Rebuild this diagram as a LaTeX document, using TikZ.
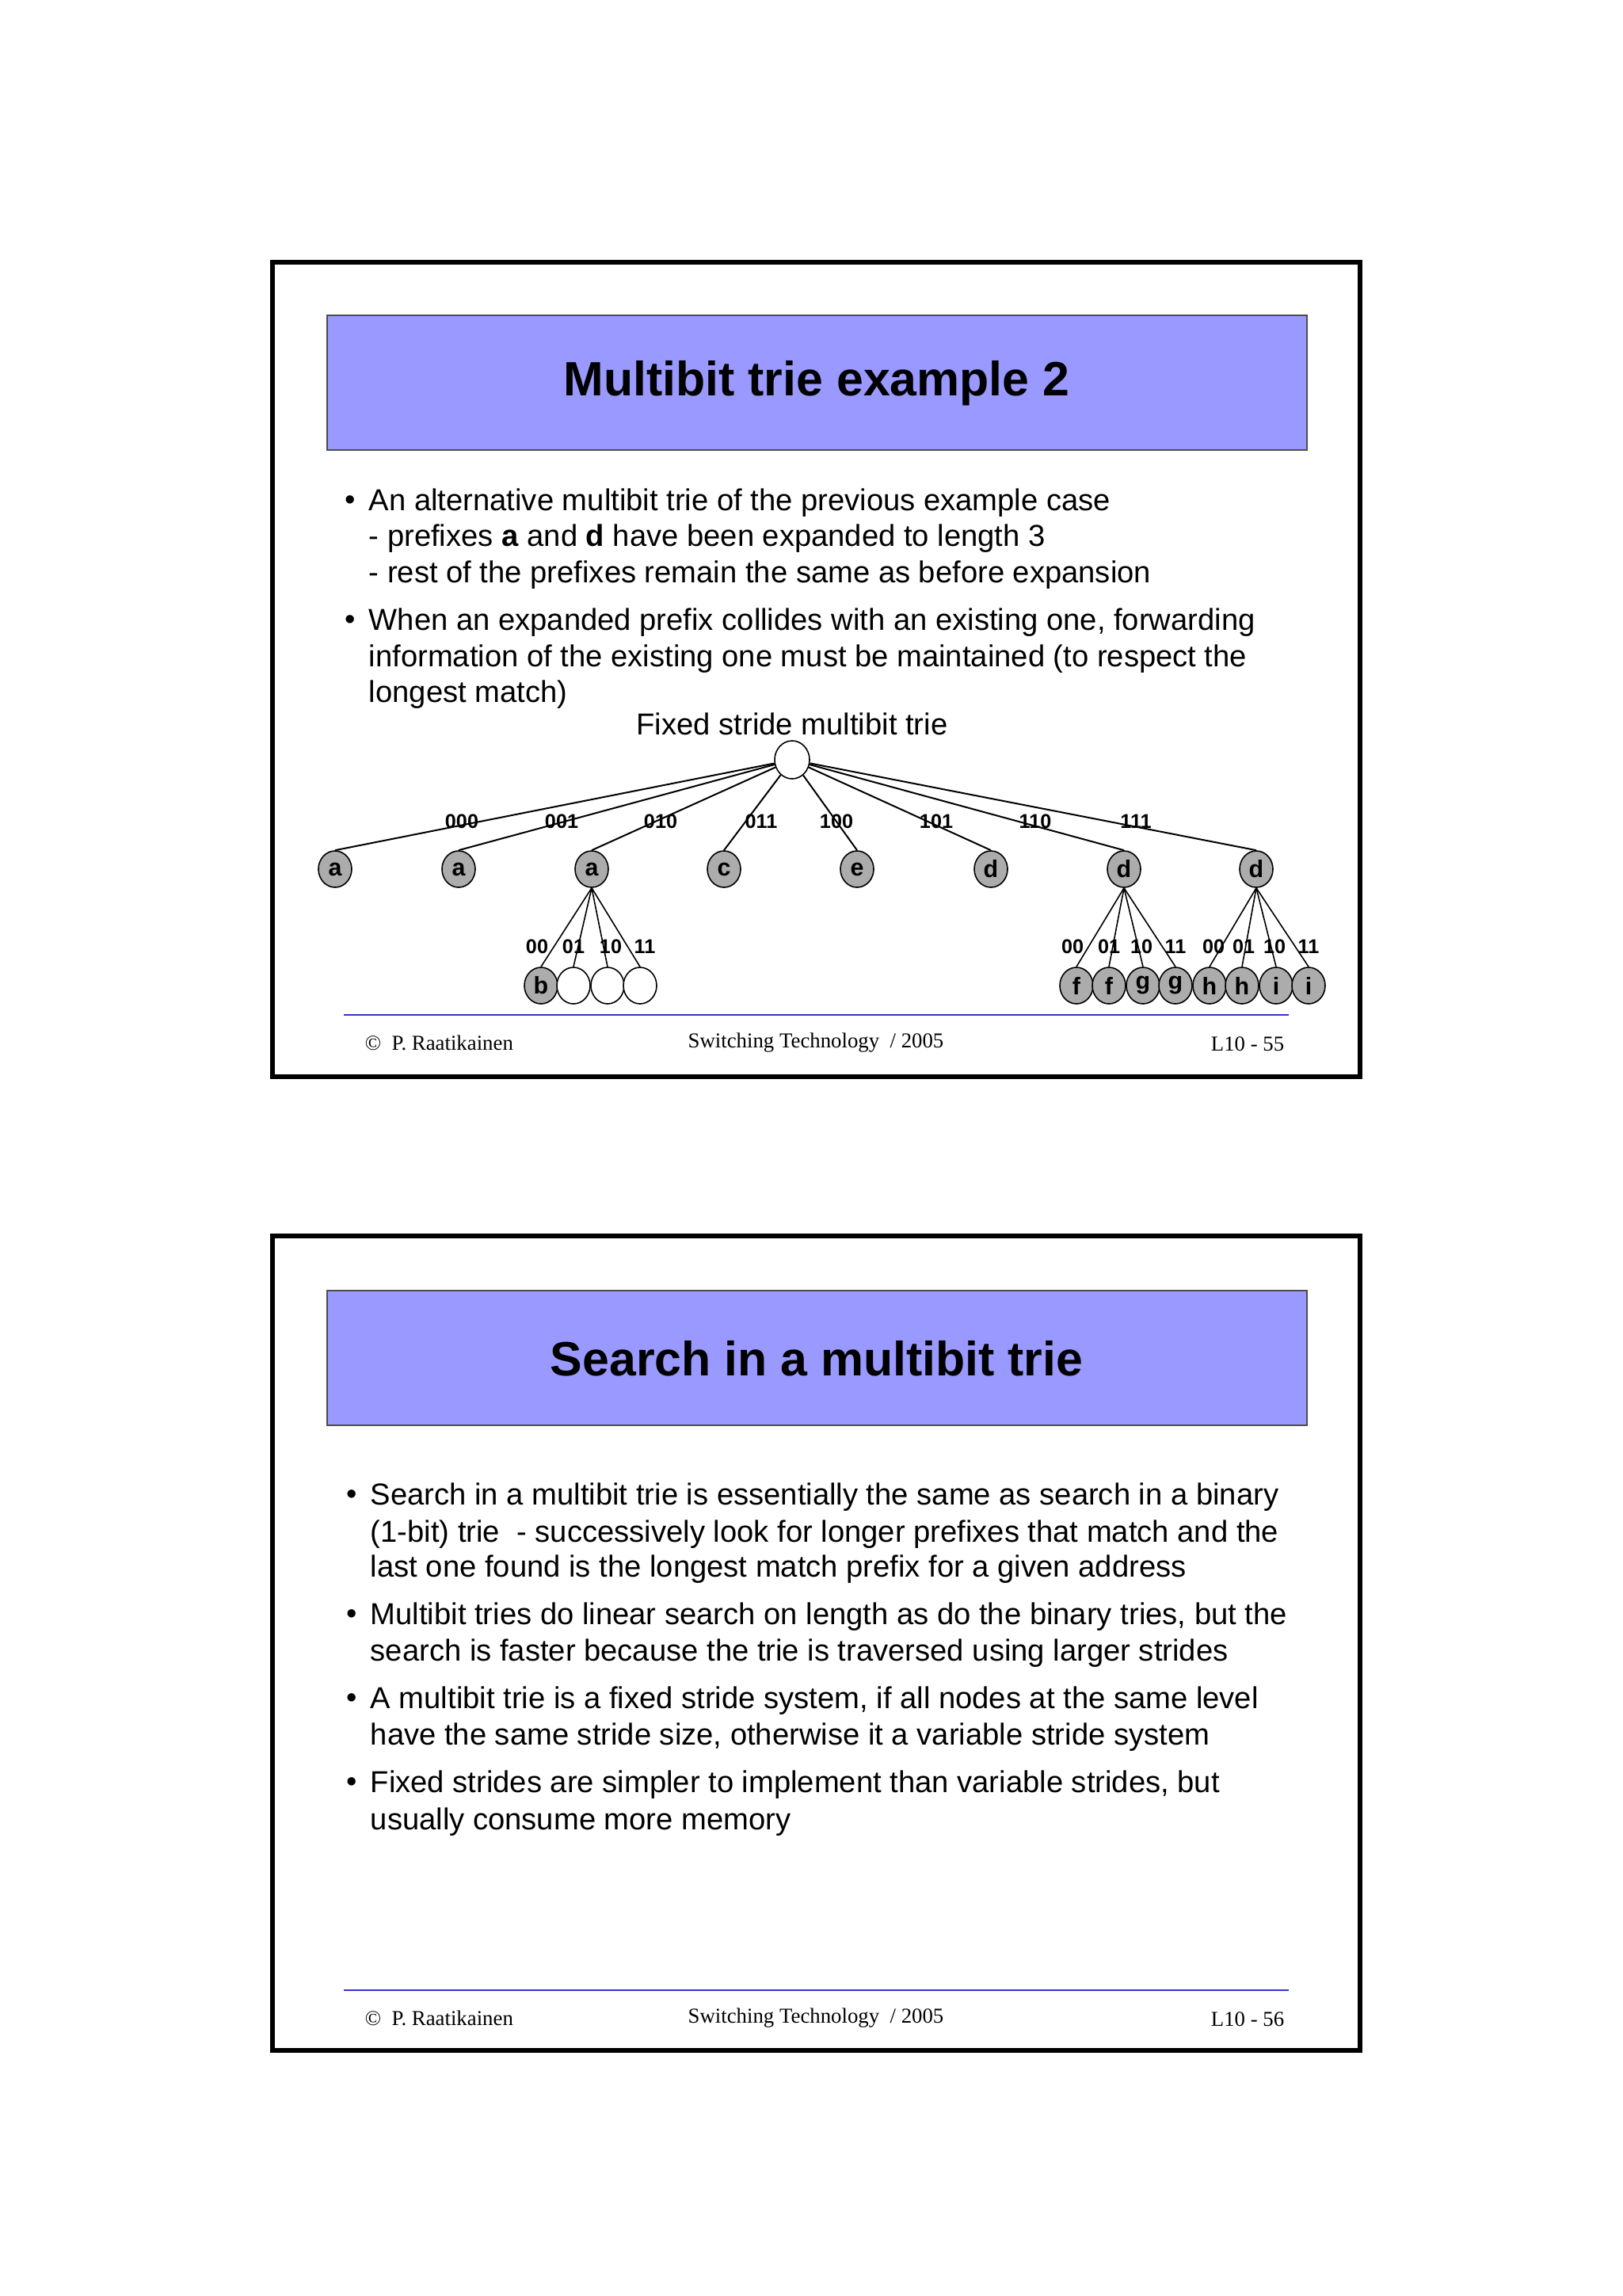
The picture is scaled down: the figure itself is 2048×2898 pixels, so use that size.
\documentclass[tikz,border=0pt]{standalone}
\usepackage{fontspec}
\setmainfont{Liberation Sans}
\newfontfamily\footfont{Liberation Serif}
\usetikzlibrary{shapes.geometric}
\definecolor{titlefill}{HTML}{9999FF}
\definecolor{rule}{HTML}{3333CC}
\tikzset{
  frame/.style={draw=black,line width=1.3pt},
  titlebox/.style={draw=black!70,fill=titlefill,line width=0.4pt},
  titletext/.style={font=\fontsize{15.2}{18}\selectfont\bfseries},
  bodyline/.style={anchor=west,inner sep=0,font=\fontsize{9.55}{11}\selectfont},
  foot/.style={inner sep=0,font=\footfont\fontsize{6.7}{8}\selectfont},
  tn/.style={ellipse,draw=black,line width=0.4pt,fill=gray!65,minimum width=10.5pt,minimum height=11.5pt,inner sep=0,font=\fontsize{7.6}{8}\selectfont\bfseries},
  en/.style={tn,fill=white},
  el/.style={inner sep=0,font=\fontsize{6.3}{7}\selectfont\bfseries},
  ed/.style={line width=0.5pt},
}
\begin{document}
\begin{tikzpicture}[x=0.25pt,y=-0.25pt]
\useasboundingbox (0,0) rectangle (2048,2898);
% ---------- slide 1
\draw[frame] (344,331) rectangle (1717,1359);
\draw[titlebox] (413,398) rectangle (1650,568);
\node[titletext] (t1) at (1031,484) {Multibit trie example 2};
\node[bodyline] (b1) at (435,635) {•};
\node[bodyline] (l1) at (465,635) {An alternative multibit trie of the previous example case};
\node[bodyline] (l2) at (465,680) {- prefixes \textbf{a} and \textbf{d} have been expanded to length 3};
\node[bodyline] (l3) at (465,726) {- rest of the prefixes remain the same as before expansion};
\node[bodyline] (b2) at (435,786) {•};
\node[bodyline] (l4) at (465,786) {When an expanded prefix collides with an existing one, forwarding};
\node[bodyline] (l5) at (465,832) {information of the existing one must be maintained (to respect the};
\node[bodyline] (l6) at (465,877) {longest match)};
\node[inner sep=0,font=\fontsize{9.55}{11}\selectfont] (ft) at (1000,914) {Fixed stride multibit trie};
% trie
\node[en,minimum width=11pt,minimum height=12pt] (r) at (1000,959) {};
\foreach \n/\x/\t in {n1/423/a,n2/579/a,n3/747/a,n4/914/c,n5/1082/e,n6/1251/d,n7/1419/d,n8/1586/d}
  \node[tn] (\n) at (\x,1097) {\t};
\foreach \n/\x/\l in {n1/583/000,n2/709/001,n3/834/010,n4/961/011,n5/1056/100,n6/1182/101,n7/1307/110,n8/1434/111}{
  \draw[ed] (r) -- (\n.north);
  \node[el] at (\x,1037) {\l};
}
\foreach \n/\x/\t/\s in {m1/683/b/tn,m2/724//en,m3/767//en,m4/808//en,
  m5/1359/f/tn,m6/1400/f/tn,m7/1443/g/tn,m8/1484/g/tn,
  m9/1527/h/tn,m10/1568/h/tn,m11/1611/i/tn,m12/1652/i/tn}
  \node[\s] (\n) at (\x,1244) {\t};
\foreach \p/\c in {n3/m1,n3/m2,n3/m3,n3/m4,n7/m5,n7/m6,n7/m7,n7/m8,n8/m9,n8/m10,n8/m11,n8/m12}
  \draw[ed,line width=0.4pt] (\p.south) -- (\c.north);
\foreach \x/\l in {678/00,724/01,771/10,814/11,1354/00,1400/01,1441/10,1484/11,1532/00,1570/01,1609/10,1652/11}
  \node[el] at (\x,1195) {\l};
\draw[rule,line width=0.6pt] (434,1281) -- (1627,1281);
\node[foot,anchor=west] (f1) at (460,1316) {©\ \ P. Raatikainen};
\node[foot] (f2) at (1030,1316) {Switching Technology \ / 2005};
\node[foot,anchor=east] (f3) at (1622,1318) {L10 - 55};
% ---------- slide 2
\draw[frame] (344,1560) rectangle (1717,2588);
\draw[titlebox] (413,1629) rectangle (1650,1799);
\node[titletext] (t2) at (1031,1715) {Search in a multibit trie};
\node[bodyline] at (437,1890) {•};
\node[bodyline] at (467,1890) {Search in a multibit trie is essentially the same as search in a binary};
\node[bodyline] at (467,1937) {(1-bit) trie \ - successively look for longer prefixes that match and the};
\node[bodyline] at (467,1981) {last one found is the longest match prefix for a given address};
\node[bodyline] at (437,2041) {•};
\node[bodyline] at (467,2041) {Multibit tries do linear search on length as do the binary tries, but the};
\node[bodyline] at (467,2087) {search is faster because the trie is traversed using larger strides};
\node[bodyline] at (437,2147) {•};
\node[bodyline] at (467,2147) {A multibit trie is a fixed stride system, if all nodes at the same level};
\node[bodyline] at (467,2193) {have the same stride size, otherwise it a variable stride system};
\node[bodyline] at (437,2253) {•};
\node[bodyline] at (467,2253) {Fixed strides are simpler to implement than variable strides, but};
\node[bodyline] at (467,2300) {usually consume more memory};
\draw[rule,line width=0.6pt] (434,2512) -- (1627,2512);
\node[foot,anchor=west] (g1) at (460,2547) {©\ \ P. Raatikainen};
\node[foot] (g2) at (1030,2547) {Switching Technology \ / 2005};
\node[foot,anchor=east] (g3) at (1622,2549) {L10 - 56};
\end{tikzpicture}
\end{document}
